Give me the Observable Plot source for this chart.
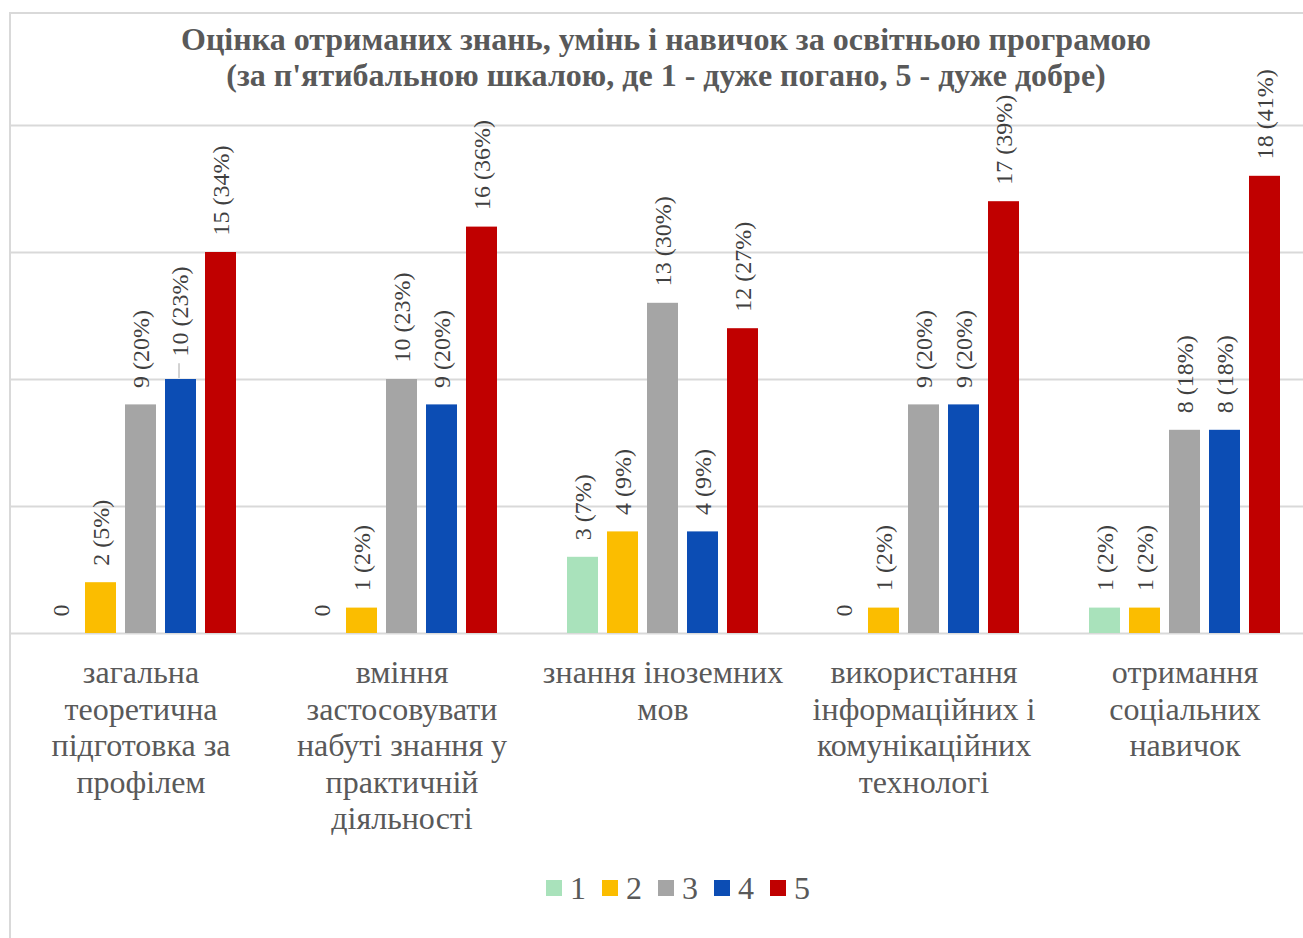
<!DOCTYPE html>
<html>
<head>
<meta charset="utf-8">
<script src="https://cdn.jsdelivr.net/npm/d3@7"></script>
<script src="https://cdn.jsdelivr.net/npm/@observablehq/plot@0.6"></script>
<style>
  html, body { margin: 0; padding: 0; background: #fff; overflow: hidden; }
  #wrap { position: relative; width: 1303px; height: 938px; overflow: hidden; font-family: "Liberation Serif", "Tinos", "Times New Roman", "DejaVu Serif", serif; }
  #frame { position: absolute; left: 9px; top: 12px; width: 1400px; height: 1000px; border: 2px solid #d9d9d9; box-sizing: border-box; }
  #title { position: absolute; left: 7px; width: 1318px; top: 21px; text-align: center; font-weight: bold; font-size: 32px; line-height: 36px; color: #595959; }
  #chart { position: absolute; left: 0; top: 0; }
  #legend { position: absolute; left: 0; width: 1356px; top: 869px; display: flex; justify-content: center; gap: 16px; font-size: 32px; line-height: 38px; color: #595959; }
  #legend .item { display: flex; align-items: center; gap: 8px; }
  #legend .sw { width: 16px; height: 16px; display: inline-block; }
</style>
</head>
<body>
<div id="wrap">
  <div id="frame"></div>
  <div id="chart"></div>
  <div id="title">Оцінка отриманих знань, умінь і навичок за освітньою програмою<br>(за п'ятибальною шкалою, де 1 - дуже погано, 5 - дуже добре)</div>
  <div id="legend"></div>
</div>
<script>
const categories = [
  "загальна\nтеоретична\nпідготовка за\nпрофілем",
  "вміння\nзастосовувати\nнабуті знання у\nпрактичній\nдіяльності",
  "знання іноземних\nмов",
  "використання\nінформаційних і\nкомунікаційних\nтехнологі",
  "отримання\nсоціальних\nнавичок"
];
const series = ["1", "2", "3", "4", "5"];
const colors = ["#a9e2bb", "#fbbd00", "#a5a5a5", "#0c4db4", "#c00000"];
const counts1 = [0, 0, 3, 0, 1];
const counts2 = [2, 1, 4, 1, 1];
const counts3 = [9, 10, 13, 9, 8];
const counts4 = [10, 9, 4, 9, 8];
const counts5 = [15, 16, 12, 17, 18];
const percents1 = [null, null, 7, null, 2];
const percents2 = [5, 2, 9, 2, 2];
const percents3 = [20, 23, 30, 20, 18];
const percents4 = [23, 20, 9, 20, 18];
const percents5 = [34, 36, 27, 39, 41];
const yTicks = [0, 5, 10, 15, 20];

const countsBySeries = [counts1, counts2, counts3, counts4, counts5];
const percentsBySeries = [percents1, percents2, percents3, percents4, percents5];
const data = [];
categories.forEach((c, i) => {
  series.forEach((s, j) => {
    const v = countsBySeries[j][i];
    const p = percentsBySeries[j][i];
    data.push({cat: c, series: s, value: v, label: v === 0 ? "0" : `${v} (${p}%)`, shifted: i === 0 && j === 3});
  });
});
const normal = data.filter(d => !d.shifted);
const shifted = data.filter(d => d.shifted);

const FONT = "'Liberation Serif', 'Tinos', 'Times New Roman', 'DejaVu Serif', serif";
const W = 1330, H = 860;
const chart = Plot.plot({
  width: W,
  height: H,
  marginLeft: 10,
  marginRight: 15,
  marginTop: 125,
  marginBottom: H - 633,
  style: {fontFamily: FONT, background: "transparent", overflow: "visible", maxWidth: "none"},
  fx: {domain: categories, padding: 0, label: null},
  x: {domain: series, paddingInner: 0.225, paddingOuter: 0.875, axis: null},
  y: {domain: [0, 20], axis: null},
  color: {domain: series, range: colors},
  marks: [
    Plot.gridY(yTicks, {stroke: "#d9d9d9", strokeWidth: 2, strokeOpacity: 1}),
    Plot.barY(data, {fx: "cat", x: "series", y: "value", fill: "series"}),
    Plot.text(normal, {fx: "cat", x: "series", y: "value", text: "label", rotate: -90, textAnchor: "start", dy: -17, fontSize: 24, fill: "#404040"}),
    Plot.text(shifted, {fx: "cat", x: "series", y: "value", text: "label", rotate: -90, textAnchor: "start", dy: -23, dx: -1, fontSize: 24, fill: "#404040"}),
    Plot.ruleX(shifted, {fx: "cat", x: "series", y1: d => d.value + 0.04, y2: d => d.value + 0.62, stroke: "#a6a6a6", strokeWidth: 1, dx: -2}),
    Plot.axisFx({anchor: "bottom", tickSize: 0, tickPadding: 24, fontSize: 32, lineHeight: 1.14, lineAnchor: "top", fill: "#595959", label: null})
  ]
});
document.getElementById("chart").appendChild(chart);

const legend = document.getElementById("legend");
series.forEach((s, j) => {
  const item = document.createElement("div");
  item.className = "item";
  const sw = document.createElement("span");
  sw.className = "sw";
  sw.style.background = colors[j];
  const t = document.createElement("span");
  t.textContent = s;
  item.appendChild(sw);
  item.appendChild(t);
  legend.appendChild(item);
});
</script>
</body>
</html>
